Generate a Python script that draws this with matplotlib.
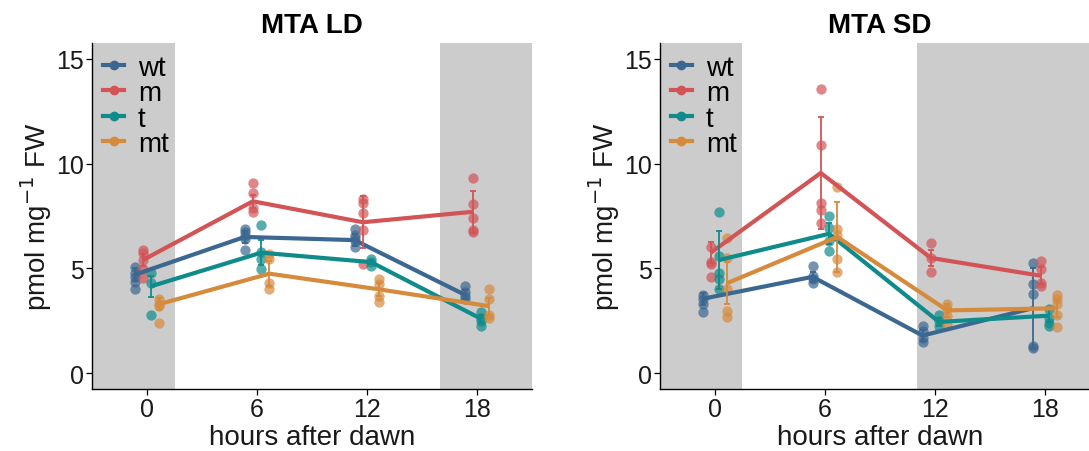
import numpy as np
import matplotlib
matplotlib.use('Agg')
import matplotlib.pyplot as plt
from matplotlib.lines import Line2D

# hours after dawn and genotypes
hours = [0, 6, 12, 18]
genotypes = ['wt', 'm', 't', 'mt']
colors = {'wt': '#3b6790', 'm': '#d25457', 't': '#0f8b8b', 'mt': '#d68a3c'}
dodge = {'wt': -0.675, 'm': -0.225, 't': 0.225, 'mt': 0.675}

# ---- MTA LD ----
ld_means = {
    'wt': [4.7, 6.5, 6.35, 3.75],
    'm':  [5.4, 8.2, 7.2, 7.7],
    't':  [4.15, 5.75, 5.3, 2.6],
    'mt': [3.3, 4.75, 4.0, 3.2],
}
ld_err = {
    'wt': [0.3, 0.3, 0.3, 0.2],
    'm':  [0.3, 0.3, 1.25, 1.0],
    't':  [0.5, 0.6, 0.1, 0.2],
    'mt': [0.3, 0.6, 0.3, 0.4],
}
ld_points = {
    'wt': [[5.05, 4.8, 4.6, 4.35, 4.0],
           [6.9, 6.75, 6.55, 6.4, 5.9],
           [6.9, 6.6, 6.45, 6.3, 6.0],
           [4.15, 3.9, 3.7, 3.55]],
    'm':  [[5.9, 5.75, 5.4, 4.95, 4.55],
           [9.05, 8.6, 7.9, 7.7],
           [8.3, 8.1, 7.65, 6.85, 5.2],
           [9.3, 8.05, 7.4, 6.85, 6.75]],
    't':  [[4.8, 4.3, 2.8],
           [7.05, 5.8, 5.45, 4.95],
           [5.45, 5.3, 5.1],
           [2.9, 2.65, 2.5, 2.25]],
    'mt': [[3.55, 3.3, 3.2, 2.4],
           [5.7, 5.45, 4.3, 4.0],
           [4.5, 4.25, 3.7, 3.4],
           [4.0, 3.55, 2.8, 2.65]],
}

# ---- MTA SD ----
sd_means = {
    'wt': [3.55, 4.6, 1.8, 3.1],
    'm':  [5.75, 9.55, 5.5, 4.65],
    't':  [5.4, 6.65, 2.45, 2.75],
    'mt': [4.3, 6.5, 3.0, 3.1],
}
sd_err = {
    'wt': [0.3, 0.25, 0.25, 1.9],
    'm':  [0.5, 2.65, 0.4, 0.4],
    't':  [1.4, 0.5, 0.2, 0.3],
    'mt': [1.0, 1.65, 0.3, 0.4],
}
sd_points = {
    'wt': [[3.75, 3.55, 3.3, 2.9],
           [5.1, 4.65, 4.5, 4.3],
           [2.25, 2.0, 1.7, 1.5],
           [5.25, 4.25, 3.8, 1.3, 1.2]],
    'm':  [[6.0, 5.3, 5.2, 4.6],
           [13.55, 10.9, 8.1, 7.8, 7.15],
           [6.2, 5.5, 4.85],
           [5.35, 4.95, 4.3, 4.15]],
    't':  [[7.7, 5.6, 4.8, 4.5, 4.0],
           [7.5, 6.95, 6.3, 5.85],
           [2.8, 2.5, 2.25],
           [3.05, 2.65, 2.4, 2.25]],
    'mt': [[6.45, 5.5, 4.0, 2.95, 2.7],
           [8.9, 6.9, 6.6, 5.45, 4.85],
           [3.3, 3.05, 2.75, 2.3],
           [3.75, 3.55, 3.3, 2.8, 2.2]],
}

# dark periods shown as grey bands (hours)
ld_dark = [(-3, 1.5), (16, 21)]
sd_dark = [(-3, 1.5), (11, 21)]

plt.rcParams['font.family'] = ['Liberation Sans', 'DejaVu Sans']

fig = plt.figure(figsize=(10.89, 4.52), dpi=100)
ax1 = fig.add_axes([0.0845, 0.137, 0.404, 0.766])
ax2 = fig.add_axes([0.606, 0.137, 0.404, 0.766])


def draw_panel(ax, title, means, err, points, dark):
    for x0, x1 in dark:
        ax.axvspan(x0, x1, color='#cccccc', lw=0, zorder=0)
    for g in genotypes:
        xs = np.array(hours) + dodge[g]
        c = colors[g]
        for x, pts in zip(xs, points[g]):
            ax.scatter([x] * len(pts), pts, s=55, color=c, alpha=0.7,
                       linewidths=0, zorder=3)
        ax.plot(xs, means[g], color=c, lw=3.0, zorder=4, solid_capstyle='butt')
        ax.errorbar(xs, means[g], yerr=err[g], fmt='none', ecolor=c,
                    elinewidth=1.3, capsize=2.5, capthick=1.3, zorder=4)
    ax.set_xlim(-3, 21)
    ax.set_ylim(-0.75, 15.75)
    ax.set_xticks(hours)
    ax.set_yticks([0, 5, 10, 15])
    ax.tick_params(labelsize=18, length=4, width=0.9, color='black',
                   labelcolor='#1a1a1a', pad=2)
    for s in ['top', 'right']:
        ax.spines[s].set_visible(False)
    for s in ['left', 'bottom']:
        ax.spines[s].set_linewidth(1.0)
    ax.set_xlabel('hours after dawn', fontsize=20, labelpad=2, color='#1a1a1a')
    ax.set_ylabel('pmol mg$^{-1}$ FW', fontsize=20, labelpad=1, color='#1a1a1a')
    ax.set_title(title, fontsize=20, fontweight='bold', pad=8)
    handles = [Line2D([0], [0], color=colors[g], lw=3.0, marker='o',
                      markersize=6) for g in genotypes]
    ax.legend(handles, genotypes, loc='upper left', frameon=False,
              fontsize=20, handlelength=0.75, handletextpad=0.5,
              labelspacing=-0.02, borderaxespad=0.2, borderpad=0.2,
              bbox_to_anchor=(0.0, 0.998))


draw_panel(ax1, 'MTA LD', ld_means, ld_err, ld_points, ld_dark)
draw_panel(ax2, 'MTA SD', sd_means, sd_err, sd_points, sd_dark)

fig.savefig('out.png', dpi=100)
